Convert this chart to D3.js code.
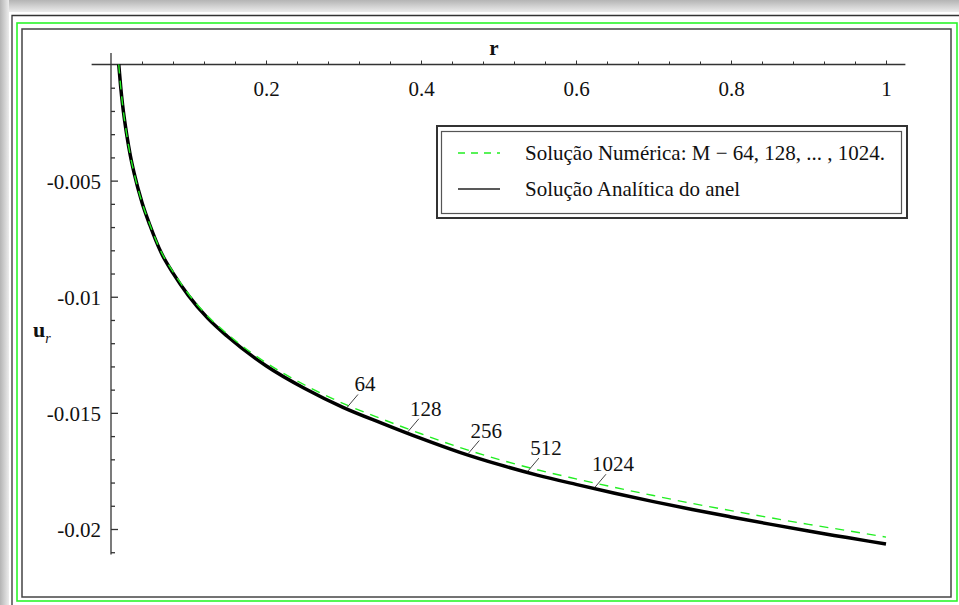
<!DOCTYPE html>
<html>
<head>
<meta charset="utf-8">
<script src="https://cdn.jsdelivr.net/npm/d3@7"></script>
<style>
    body { margin: 0; background: #fff; }
    svg text { font-family: "Liberation Serif", "Times New Roman", serif; fill: #111; }
</style>
</head>
<body>
<div id="chart"></div>
<script>
// values
let rValues = [0.01, 0.0125, 0.015, 0.02, 0.025, 0.03, 0.04, 0.05, 0.065, 0.08, 0.1, 0.125, 0.15,
    0.2, 0.25, 0.3, 0.35, 0.4, 0.45, 0.5, 0.55, 0.6, 0.65, 0.7, 0.75, 0.8, 0.85, 0.9, 0.95, 1.0];
let uAnalytic = [0, -0.00096, -0.00175, -0.00296, -0.00393, -0.0047, -0.00594, -0.0069, -0.00812,
    -0.00898, -0.00995, -0.01093, -0.0117, -0.01297, -0.01395, -0.01477, -0.01545, -0.0161,
    -0.0167, -0.01722, -0.01768, -0.01808, -0.01846, -0.01882, -0.01916, -0.01948, -0.01979,
    -0.02009, -0.02037, -0.02065];
let uNumeric = [0, -0.00096, -0.00175, -0.00296, -0.00393, -0.0047, -0.00594, -0.00688, -0.00808,
    -0.00892, -0.00988, -0.01084, -0.0116, -0.01284, -0.0138, -0.0146, -0.01527, -0.0159,
    -0.01649, -0.017, -0.01745, -0.01784, -0.01821, -0.01856, -0.0189, -0.01921, -0.01951,
    -0.0198, -0.02007, -0.02035];

let meshLabels = ["64", "128", "256", "512", "1024"];
let meshLabelR = [0.3045, 0.383, 0.461, 0.538, 0.6245];

let xMajorTicks = [0.2, 0.4, 0.6, 0.8, 1];
let xTickLabels = ["0.2", "0.4", "0.6", "0.8", "1"];
let xMinorTicks = [0.04, 0.08, 0.12, 0.16, 0.24, 0.28, 0.32, 0.36, 0.44, 0.48, 0.52, 0.56,
    0.64, 0.68, 0.72, 0.76, 0.84, 0.88, 0.92, 0.96];
let yMajorTicks = [-0.005, -0.01, -0.015, -0.02];
let yTickLabels = ["-0.005", "-0.01", "-0.015", "-0.02"];
let yMinorTicks = [-0.001, -0.002, -0.003, -0.004, -0.006, -0.007, -0.008, -0.009, -0.011, -0.012,
    -0.013, -0.014, -0.016, -0.017, -0.018, -0.019, -0.021];
let xAxisExtent = [-0.025, 1.025];
let yAxisExtent = [0.0005, -0.0211];

let legendLabels = ["Solução Numérica: M − 64, 128, ... , 1024.", "Solução Analítica do anel"];

function init() {
    let width = 959;
    let height = 605;
    let svg = d3.select("#chart")
        .append("svg")
        .attr("width", width)
        .attr("height", height);

    // frame / shadow
    let defs = svg.append("defs");
    let gTop = defs.append("linearGradient").attr("id", "shTop").attr("x1", 0).attr("y1", 0).attr("x2", 0).attr("y2", 1);
    gTop.append("stop").attr("offset", 0).attr("stop-color", "#b4b4b4");
    gTop.append("stop").attr("offset", 1).attr("stop-color", "#ececec");
    let gLeft = defs.append("linearGradient").attr("id", "shLeft").attr("x1", 0).attr("y1", 0).attr("x2", 1).attr("y2", 0);
    gLeft.append("stop").attr("offset", 0).attr("stop-color", "#b4b4b4");
    gLeft.append("stop").attr("offset", 1).attr("stop-color", "#ececec");

    svg.append("rect").attr("width", width).attr("height", height).attr("fill", "#fff");
    svg.append("rect").attr("x", 0).attr("y", 0).attr("width", width).attr("height", 12).attr("fill", "url(#shTop)");
    svg.append("rect").attr("x", 0).attr("y", 0).attr("width", 9).attr("height", height).attr("fill", "url(#shLeft)");

    svg.append("path")
        .attr("d", "M12," + height + "V15.5H" + width)
        .attr("fill", "none").attr("stroke", "#333").attr("stroke-width", 1.3);
    svg.append("rect")
        .attr("x", 17).attr("y", 23).attr("width", 940).attr("height", 578)
        .attr("fill", "none").attr("stroke", "#2bf52b").attr("stroke-width", 1.6);
    svg.append("rect")
        .attr("x", 22).attr("y", 29).attr("width", 929).attr("height", 568)
        .attr("fill", "none").attr("stroke", "#444").attr("stroke-width", 1.5);

    // scales
    let xScale = d3.scaleLinear().domain([0, 1]).range([111, 886]);
    let yScale = d3.scaleLinear().domain([0, -0.02]).range([64.5, 529]);

    // x axis (ticks point up, labels below)
    let xAxisG = svg.append("g").attr("transform", "translate(0," + yScale(0) + ")");
    xAxisG.append("line")
        .attr("x1", xScale(xAxisExtent[0])).attr("x2", xScale(xAxisExtent[1]))
        .attr("stroke", "#333").attr("stroke-width", 1.5);
    xAxisG.append("g")
        .call(d3.axisBottom(xScale).tickValues(xMinorTicks).tickSizeInner(-3).tickSizeOuter(0).tickFormat(""))
        .call(g => g.select(".domain").remove());
    xAxisG.append("g")
        .call(d3.axisBottom(xScale).tickValues(xMajorTicks).tickSizeInner(-4).tickSizeOuter(0)
            .tickPadding(17).tickFormat((d, i) => xTickLabels[i]))
        .call(g => g.select(".domain").remove())
        .call(g => g.selectAll("text").attr("font-size", 21).attr("font-family", null));
    xAxisG.selectAll("line").attr("stroke", "#333");

    svg.append("text")
        .attr("x", xScale(0.494))
        .attr("y", 55)
        .attr("text-anchor", "middle")
        .attr("font-size", 21)
        .attr("font-weight", "bold")
        .text("r");

    // y axis (ticks point right, labels left)
    let yAxisG = svg.append("g").attr("transform", "translate(" + xScale(0) + ",0)");
    yAxisG.append("line")
        .attr("y1", yScale(yAxisExtent[0])).attr("y2", yScale(yAxisExtent[1]))
        .attr("stroke", "#333").attr("stroke-width", 1.5);
    yAxisG.append("g")
        .call(d3.axisLeft(yScale).tickValues(yMinorTicks).tickSizeInner(-4).tickSizeOuter(0).tickFormat(""))
        .call(g => g.select(".domain").remove());
    yAxisG.append("g")
        .call(d3.axisLeft(yScale).tickValues(yMajorTicks).tickSizeInner(-7).tickSizeOuter(0)
            .tickPadding(10).tickFormat((d, i) => yTickLabels[i]))
        .call(g => g.select(".domain").remove())
        .call(g => g.selectAll("text").attr("font-size", 21).attr("font-family", null).attr("dy", "0.36em"));
    yAxisG.selectAll("line").attr("stroke", "#333").attr("stroke-width", 1.3);

    let yLabel = svg.append("text").attr("x", 33).attr("y", 337).attr("font-size", 22);
    yLabel.append("tspan").attr("font-weight", "bold").text("u");
    yLabel.append("tspan").attr("font-style", "italic").attr("font-size", 14).attr("dy", 6).text("r");

    // curves
    let analytic = rValues.map((r, i) => ({ x: r, y: uAnalytic[i] }));
    let numeric = rValues.map((r, i) => ({ x: r, y: uNumeric[i] }));
    let line = d3.line().curve(d3.curveMonotoneX)
        .x(d => xScale(d.x))
        .y(d => yScale(d.y));

    svg.append("path")
        .datum(analytic)
        .attr("fill", "none")
        .attr("stroke", "#000")
        .attr("stroke-width", 3.5)
        .attr("d", line);
    svg.append("path")
        .datum(numeric)
        .attr("fill", "none")
        .attr("stroke", "#22ee22")
        .attr("stroke-width", 1.4)
        .attr("stroke-dasharray", "9,7")
        .attr("d", line);

    // mesh size labels with leader lines
    let uAt = d3.scaleLinear().domain(rValues).range(uAnalytic);
    meshLabels.forEach(function (lab, i) {
        let px = xScale(meshLabelR[i]);
        let py = yScale(uAt(meshLabelR[i])) - 1.5;
        svg.append("line")
            .attr("x1", px).attr("y1", py)
            .attr("x2", px + 11).attr("y2", py - 13)
            .attr("stroke", "#444").attr("stroke-width", 1);
        svg.append("text")
            .attr("x", px + 18)
            .attr("y", py - 16)
            .attr("text-anchor", "middle")
            .attr("font-size", 21)
            .text(lab);
    });

    // legend
    let legend = svg.append("g");
    legend.append("rect")
        .attr("x", 437).attr("y", 126).attr("width", 470).attr("height", 92)
        .attr("fill", "#fff").attr("stroke", "#333").attr("stroke-width", 2);
    legend.append("rect")
        .attr("x", 441.5).attr("y", 131.5).attr("width", 460).attr("height", 82)
        .attr("fill", "none").attr("stroke", "#555").attr("stroke-width", 1.2);
    legend.append("line")
        .attr("x1", 458).attr("x2", 500).attr("y1", 153).attr("y2", 153)
        .attr("stroke", "#22ee22").attr("stroke-width", 1.4).attr("stroke-dasharray", "7,6");
    legend.append("line")
        .attr("x1", 458).attr("x2", 500).attr("y1", 189).attr("y2", 189)
        .attr("stroke", "#222").attr("stroke-width", 1.4);
    legend.selectAll("text.leg")
        .data(legendLabels)
        .enter()
        .append("text")
        .attr("class", "leg")
        .attr("x", 525)
        .attr("y", (d, i) => 160 + i * 36)
        .attr("font-size", 21)
        .text(d => d);
}

window.addEventListener('load', init);
</script>
</body>
</html>
